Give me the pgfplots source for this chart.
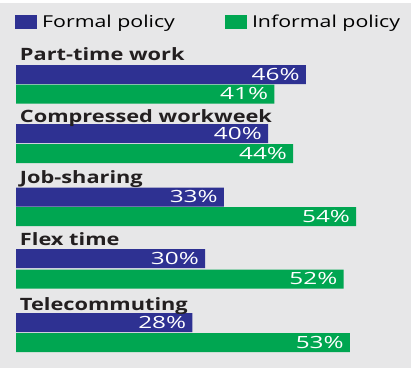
\documentclass[border=0pt]{standalone}
\usepackage{pgfplots}
\pgfplotsset{compat=1.18}
\usepackage{fontspec}
\setmainfont{Open Sans}
\newfontfamily\legfont{Open Sans}[FakeStretch=1.3]
\newfontfamily\catfont{Open Sans}[FakeStretch=1.28]
\newfontfamily\pctfont{Open Sans}[FakeStretch=1.45]
\definecolor{fblue}{RGB}{46,49,146}
\definecolor{igreen}{RGB}{0,166,81}
\definecolor{bgc}{RGB}{231,231,232}
\begin{document}
\begin{tikzpicture}
\useasboundingbox (0,0) rectangle (414pt,368pt);
\fill[white] (0,0) rectangle (414pt,368pt);
\fill[bgc] (0,0) rectangle (411pt,365pt);
\begin{axis}[at={(0,0)}, anchor=south west, scale only axis,
  width=414pt, height=368pt,
  xmin=-2.5397, xmax=63.175, ymin=0, ymax=368, y dir=reverse,
  hide axis, clip=false,
  xbar, bar width=19pt,
  point meta=x,
  nodes near coords={\pgfmathprintnumber{\pgfplotspointmeta}\%},
  every node near coord/.append style={anchor=base east, xshift=-6pt, yshift=-5.5pt,
    text=white, inner sep=0pt, font=\pctfont\fontsize{16.8}{18}\selectfont,
    /pgf/number format/assume math mode=true},
  legend columns=2,
  legend image code/.code={\fill[#1] (0pt,-7pt) rectangle (22pt,7pt);},
  legend style={at={(axis cs:-0.16,15)}, anchor=north west, draw=none, fill=none,
    inner sep=0pt, font=\legfont\fontsize{16.4}{18}\selectfont,
    nodes={inner sep=0pt},
    /tikz/every odd column/.append style={column sep=5pt},
    /tikz/every even column/.append style={column sep=50pt}},
]
\addplot[fill=fblue, draw=none, bar shift=0pt] coordinates {(46,74.5) (40,133.5) (33,197) (30,258.5) (28,322.5)};
\addlegendentry{Formal policy}
\addplot[fill=igreen, draw=none, bar shift=0pt] coordinates {(41,94) (44,153.5) (54,216.5) (52,279) (53,342.5)};
\addlegendentry{Informal policy}
\begin{scope}[every node/.style={anchor=base west, inner sep=0pt, text={rgb,255:red,35;green,31;blue,32}, font=\catfont\bfseries\fontsize{17}{20}\selectfont}]
\node at (axis cs:0.6,60) {Part-time work};
\node at (axis cs:0.6,122) {Compressed workweek};
\node at (axis cs:0.6,183) {Job-sharing};
\node at (axis cs:0.6,245) {Flex time};
\node at (axis cs:0.6,310) {Telecommuting};
\end{scope}
\end{axis}
\end{tikzpicture}
\end{document}
